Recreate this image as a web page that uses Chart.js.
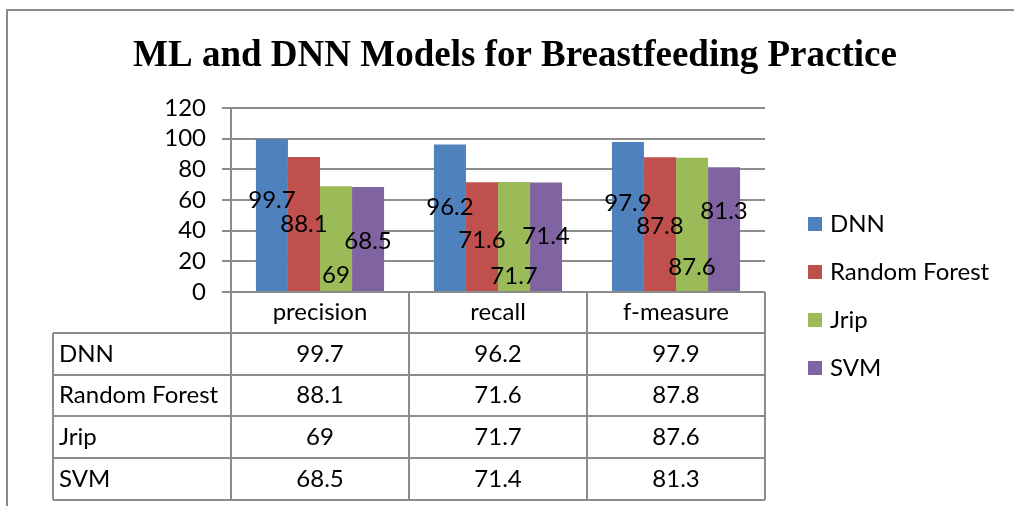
<!DOCTYPE html>
<html>
<head>
<meta charset="utf-8">
<script src="https://cdn.jsdelivr.net/npm/chart.js@4.4.1/dist/chart.umd.min.js"></script>
<style>
html,body{margin:0;padding:0;background:#fff;}
#wrap{width:1014px;height:506px;}
</style>
</head>
<body>
<div id="wrap"><canvas id="c" width="1014" height="506"></canvas></div>
<script>
// ---- data ----
const categories = ['precision', 'recall', 'f-measure'];
const seriesNames = ['DNN', 'Random Forest', 'Jrip', 'SVM'];
const dnn = [99.7, 96.2, 97.9];
const randomForest = [88.1, 71.6, 87.8];
const jrip = [69, 71.7, 87.6];
const svm = [68.5, 71.4, 81.3];
const yTickMin = 0, yTickMax = 120, yTickStep = 20;
const chartTitle = 'ML and DNN Models for Breastfeeding Practice';

// ---- style ----
const colors = ['#4F81BD', '#C0504D', '#9BBB59', '#8064A2'];
const FONT = 'Lato, "Open Sans", sans-serif';
const FS = 24;
const lineCol = '#8c8c8c';
// data-label anchor heights (axis units) as placed in the original chart
const labelAnchors = [[60, 55, 58], [44, 34, 42.7], [11, 10, 16], [33, 36.5, 52.5]];

const seriesValues = [dnn, randomForest, jrip, svm];

const decor = {
  id: 'decor',
  beforeDraw(chart) {
    const ctx = chart.ctx;
    ctx.save();
    ctx.strokeStyle = '#8a8a8a';
    ctx.lineWidth = 2;
    ctx.beginPath();
    ctx.moveTo(7, 506); ctx.lineTo(7, 10); ctx.lineTo(1014, 10);
    ctx.stroke();
    ctx.fillStyle = '#000';
    ctx.font = 'bold 37px "Liberation Serif", "Times New Roman", serif';
    ctx.textAlign = 'center';
    ctx.textBaseline = 'middle';
    ctx.fillText(chartTitle, 515, 56);
    ctx.restore();
  },
  afterDraw(chart) {
    const ctx = chart.ctx;
    const x = chart.scales.x, y = chart.scales.y;
    const area = chart.chartArea;
    ctx.save();
    // data labels
    ctx.font = FS + 'px ' + FONT;
    ctx.fillStyle = '#000';
    ctx.textAlign = 'center';
    ctx.textBaseline = 'middle';
    chart.data.datasets.forEach((ds, di) => {
      const meta = chart.getDatasetMeta(di);
      meta.data.forEach((bar, i) => {
        ctx.fillText(String(ds.data[i]), bar.x, y.getPixelForValue(labelAnchors[di][i]));
      });
    });
    // data table
    const catW = (area.right - area.left) / categories.length;
    const top = area.bottom;
    const headH = 41, rowH = 41.7;
    const leftX = 53;
    const bottom = top + headH + rowH * seriesNames.length;
    ctx.strokeStyle = lineCol;
    ctx.lineWidth = 2;
    ctx.beginPath();
    for (let k = 0; k <= categories.length; k++) {
      const cx = Math.round(area.left + k * catW);
      ctx.moveTo(cx, top); ctx.lineTo(cx, bottom);
    }
    ctx.moveTo(leftX, top + headH); ctx.lineTo(leftX, bottom);
    for (let r = 0; r <= seriesNames.length; r++) {
      const ry = Math.round(top + headH + r * rowH);
      ctx.moveTo(leftX, ry); ctx.lineTo(area.right, ry);
    }
    ctx.stroke();
    ctx.fillStyle = '#000';
    ctx.font = FS + 'px ' + FONT;
    ctx.textBaseline = 'middle';
    categories.forEach((c, i) => {
      ctx.textAlign = 'center';
      ctx.fillText(c, x.getPixelForValue(i), top + headH / 2);
    });
    seriesNames.forEach((n, r) => {
      const ry = top + headH + r * rowH + rowH / 2;
      ctx.textAlign = 'left';
      ctx.fillText(n, leftX + 6, ry);
      ctx.textAlign = 'center';
      seriesValues[r].forEach((v, i) => ctx.fillText(String(v), x.getPixelForValue(i), ry));
    });
    // legend
    seriesNames.forEach((n, r) => {
      const ly = 224 + r * 48;
      ctx.fillStyle = colors[r];
      ctx.fillRect(808, ly - 7, 14, 14);
      ctx.fillStyle = '#000';
      ctx.textAlign = 'left';
      ctx.fillText(n, 830, ly);
    });
    ctx.restore();
  }
};

new Chart(document.getElementById('c'), {
  type: 'bar',
  data: {
    labels: categories,
    datasets: seriesNames.map((n, i) => ({
      label: n,
      data: seriesValues[i],
      backgroundColor: colors[i],
      borderWidth: 0,
      categoryPercentage: 0.72,
      barPercentage: 1.0
    }))
  },
  options: {
    responsive: false,
    animation: false,
    devicePixelRatio: 1,
    layout: { padding: { top: 108, right: 249, bottom: 214, left: 0 } },
    plugins: { legend: { display: false }, title: { display: false }, tooltip: { enabled: false } },
    scales: {
      x: { display: false },
      y: {
        min: yTickMin, max: yTickMax,
        afterFit(scale) { scale.width = 231; },
        ticks: { stepSize: yTickStep, autoSkip: false, color: '#000', font: { family: FONT, size: FS }, padding: 16 },
        grid: { color: lineCol, lineWidth: 2, tickLength: 9, drawTicks: true },
        border: { color: lineCol, width: 2 }
      }
    }
  },
  plugins: [decor]
});
</script>
</body>
</html>
